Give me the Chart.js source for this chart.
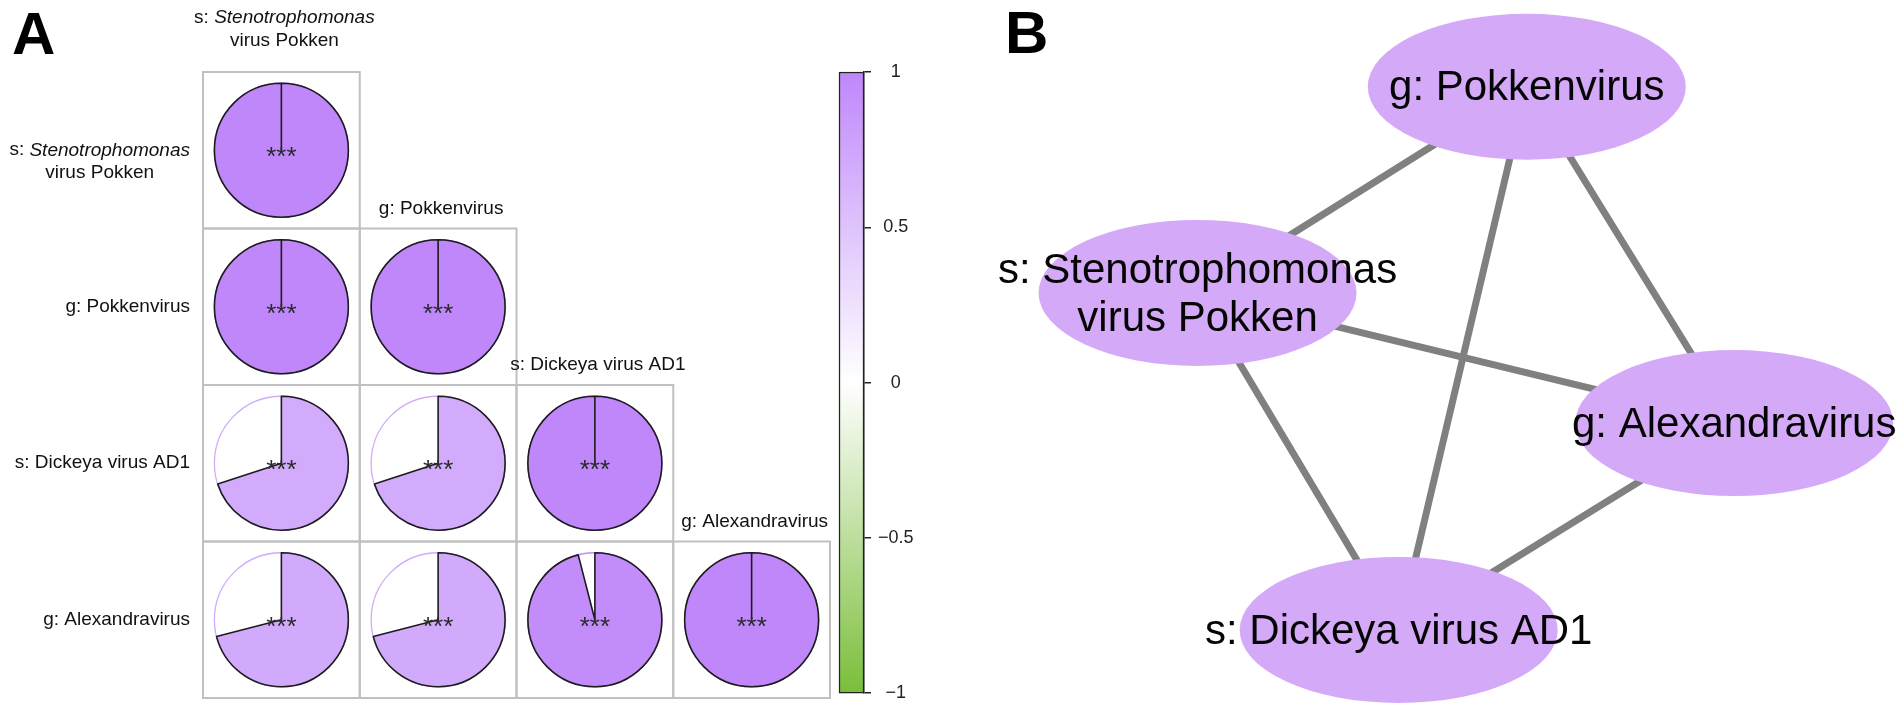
<!DOCTYPE html>
<html><head><meta charset="utf-8">
<script src="https://cdn.jsdelivr.net/npm/chart.js@4.4.1/dist/chart.umd.min.js"></script>
<style>
html,body{margin:0;padding:0;background:#fff;width:1902px;height:711px;overflow:hidden;}
canvas{position:absolute;top:0;}
</style></head><body>
<canvas id="corr" width="836" height="711" style="left:0px"></canvas>
<canvas id="cbar" width="110" height="711" style="left:832px"></canvas>
<canvas id="net" width="922" height="711" style="left:980px"></canvas>
<script>
// ---------------- DATA ----------------
const taxa = ['s: Stenotrophomonas virus Pokken', 'g: Pokkenvirus', 's: Dickeya virus AD1', 'g: Alexandravirus'];
const taxaLinesA = [['s: Stenotrophomonas', 'virus Pokken'], ['g: Pokkenvirus'], ['s: Dickeya virus AD1'], ['g: Alexandravirus']];
const italicWords = ['Stenotrophomonas'];
// lower-triangle correlation matrix, one row per taxon
const corrRow0 = [1];
const corrRow1 = [1, 1];
const corrRow2 = [0.70, 0.70, 1];
const corrRow3 = [0.71, 0.71, 0.96, 1];
const signifLabel = '***';
const colorbarTicks = [-1, -0.5, 0, 0.5, 1];
const paletteStops = [-1, 0, 1];
const paletteColors = [[122, 190, 58], [255, 255, 255], [191, 135, 250]];

// network (panel B), layout coordinates 0..100
const nodeLines = [['g: Pokkenvirus'], ['s: Stenotrophomonas', 'virus Pokken'], ['g: Alexandravirus'], ['s: Dickeya virus AD1']];
const nodeX = [58.4, 21.9, 81.4, 44.2];
const nodeY = [87.8, 58.8, 40.5, 11.4];
const edgeFrom = [0, 0, 0, 1, 1, 2];
const edgeTo = [1, 3, 2, 2, 3, 3];

// ---------------- HELPERS ----------------
const FONT = '"Liberation Sans", Arial, Helvetica, sans-serif';
function rgb(c) { return 'rgb(' + c.map(Math.round).join(',') + ')'; }
function colorFor(v) {
  for (let i = 0; i < paletteStops.length - 1; i++) {
    const a = paletteStops[i], b = paletteStops[i + 1];
    if (v >= a && v <= b) {
      const t = (v - a) / (b - a);
      const c0 = paletteColors[i], c1 = paletteColors[i + 1];
      return rgb(c0.map((x, k) => x + (c1[k] - x) * t));
    }
  }
  return rgb(paletteColors[paletteColors.length - 1]);
}
function runsOf(text) {
  let runs = [{ t: text, it: false }];
  italicWords.forEach(w => {
    const out = [];
    runs.forEach(r => {
      if (r.it) { out.push(r); return; }
      const parts = r.t.split(w);
      parts.forEach((p, i) => {
        if (p) out.push({ t: p, it: false });
        if (i < parts.length - 1) out.push({ t: w, it: true });
      });
    });
    runs = out;
  });
  return runs;
}
function fontStr(size, it) { return (it ? 'italic ' : '') + size + 'px ' + FONT; }
function richWidth(ctx, text, size) {
  return runsOf(text).reduce((s, r) => { ctx.font = fontStr(size, r.it); return s + ctx.measureText(r.t).width; }, 0);
}
function drawRich(ctx, text, x, y, align, size) {
  const w = richWidth(ctx, text, size);
  let sx = align === 'right' ? x - w : align === 'center' ? x - w / 2 : x;
  ctx.textAlign = 'left';
  runsOf(text).forEach(r => {
    ctx.font = fontStr(size, r.it);
    ctx.fillText(r.t, sx, y);
    sx += ctx.measureText(r.t).width;
  });
}

// ---------------- PANEL A: correlation pies ----------------
const corrRows = [corrRow0, corrRow1, corrRow2, corrRow3];
const corrPoints = corrRows.flatMap((row, r) => row.map((v, c) => ({ x: c, y: r, v: v })));

const corrPlugin = {
  id: 'corrGlyphs',
  afterDatasetsDraw(chart) {
    const ctx = chart.ctx, xs = chart.scales.x, ys = chart.scales.y, area = chart.chartArea;
    const cw = Math.abs(xs.getPixelForValue(0.5) - xs.getPixelForValue(-0.5));
    const ch = Math.abs(ys.getPixelForValue(0.5) - ys.getPixelForValue(-0.5));
    const pts = chart.data.datasets[0].data;
    ctx.save();
    // cell boxes
    ctx.strokeStyle = '#c0c0c0'; ctx.lineWidth = 2;
    pts.forEach(p => {
      const cx = xs.getPixelForValue(p.x), cy = ys.getPixelForValue(p.y);
      ctx.strokeRect(cx - cw / 2, cy - ch / 2, cw, ch);
    });
    // pies
    const R = 0.428 * Math.min(cw, ch);
    pts.forEach(p => {
      const cx = xs.getPixelForValue(p.x), cy = ys.getPixelForValue(p.y);
      const col = colorFor(p.v);
      ctx.beginPath(); ctx.arc(cx, cy, R, 0, 2 * Math.PI);
      ctx.strokeStyle = col; ctx.lineWidth = 1.3; ctx.stroke();
      const a0 = -Math.PI / 2, a1 = a0 + 2 * Math.PI * p.v;
      ctx.beginPath(); ctx.moveTo(cx, cy); ctx.lineTo(cx, cy - R);
      ctx.arc(cx, cy, R, a0, a1, p.v < 0); ctx.closePath();
      ctx.fillStyle = col; ctx.fill();
      ctx.strokeStyle = '#1c1c1c'; ctx.lineWidth = 1.6; ctx.lineJoin = 'round'; ctx.stroke();
      ctx.fillStyle = '#2a2a2a'; ctx.font = '26px ' + FONT; ctx.textAlign = 'center'; ctx.textBaseline = 'alphabetic';
      ctx.fillText(signifLabel, cx, cy + 15);
    });
    // labels
    ctx.fillStyle = '#111'; ctx.textBaseline = 'middle';
    taxaLinesA.forEach((lines, i) => {
      // row label (left)
      const ry = ys.getPixelForValue(i);
      const w0 = richWidth(ctx, lines[0], 19);
      const rx = area.left - 13;
      lines.forEach((ln, k) => {
        if (k === 0) drawRich(ctx, ln, rx, ry, 'right', 19);
        else drawRich(ctx, ln, rx - w0 / 2, ry + 23 * k, 'center', 19);
      });
      // column label (above diagonal cell), block centred above the cell
      const cx = xs.getPixelForValue(i) + 3;
      const top = ys.getPixelForValue(i) - ch / 2;
      const n = lines.length;
      const blockCenter = top - 20 - 23 * (n - 1);
      lines.forEach((ln, k) => {
        drawRich(ctx, ln, cx, blockCenter + (k - (n - 1) / 2) * 23, 'center', 19);
      });
    });
    // panel letter
    ctx.fillStyle = '#000'; ctx.font = 'bold 60px ' + FONT; ctx.textAlign = 'left'; ctx.textBaseline = 'alphabetic';
    ctx.fillText('A', 12, 54);
    ctx.restore();
  }
};

new Chart(document.getElementById('corr'), {
  type: 'scatter',
  data: { datasets: [{ data: corrPoints, pointRadius: 0, pointHoverRadius: 0 }] },
  options: {
    responsive: false, animation: false, devicePixelRatio: 1,
    layout: { padding: { left: 203, top: 72, right: 6, bottom: 13 } },
    plugins: { legend: { display: false }, tooltip: { enabled: false } },
    scales: {
      x: { type: 'linear', min: -0.5, max: 3.5, display: false },
      y: { type: 'linear', min: -0.5, max: 3.5, reverse: true, display: false }
    }
  },
  plugins: [corrPlugin]
});

// ---------------- COLOUR BAR ----------------
function fmtTick(v) { return v < 0 ? '\u2212' + Math.abs(v) : String(v); }
new Chart(document.getElementById('cbar'), {
  type: 'bar',
  data: {
    labels: [''],
    datasets: [{
      data: [[colorbarTicks[0], colorbarTicks[colorbarTicks.length - 1]]],
      backgroundColor: (c) => {
        const ch = c.chart; const area = ch.chartArea;
        if (!area) return null;
        const y0 = ch.scales.y.getPixelForValue(paletteStops[0]);
        const y1 = ch.scales.y.getPixelForValue(paletteStops[paletteStops.length - 1]);
        const g = ch.ctx.createLinearGradient(0, y0, 0, y1);
        paletteStops.forEach((s, i) => g.addColorStop((s - paletteStops[0]) / (paletteStops[paletteStops.length - 1] - paletteStops[0]), rgb(paletteColors[i])));
        return g;
      },
      borderColor: '#222', borderWidth: 1.5, borderSkipped: false,
      barPercentage: 1, categoryPercentage: 1, clip: false
    }]
  },
  options: {
    responsive: false, animation: false, devicePixelRatio: 1,
    layout: { padding: { left: 7, top: 72, right: 0, bottom: 13 } },
    plugins: { legend: { display: false }, tooltip: { enabled: false } },
    scales: {
      x: { display: false },
      y: {
        position: 'right', min: -1, max: 1,
        afterBuildTicks: s => { s.ticks = colorbarTicks.map(v => ({ value: v })); },
        afterFit: s => { s.width = 78; },
        grid: { drawOnChartArea: false, drawTicks: true, tickLength: 7, color: '#222', lineWidth: 1.5 },
        border: { display: true, color: '#222', width: 1.5 },
        ticks: { padding: 7, crossAlign: 'center', color: '#222', font: { size: 18, family: FONT }, callback: v => fmtTick(v) }
      }
    }
  }
});

// ---------------- PANEL B: network ----------------
const netPlugin = {
  id: 'netNodes',
  afterDatasetsDraw(chart) {
    const ctx = chart.ctx, xs = chart.scales.x, ys = chart.scales.y;
    ctx.save();
    nodeX.forEach((nx, i) => {
      const px = xs.getPixelForValue(nx), py = ys.getPixelForValue(nodeY[i]);
      ctx.beginPath(); ctx.ellipse(px, py, 159, 73, 0, 0, 2 * Math.PI);
      ctx.fillStyle = 'rgb(212,170,248)'; ctx.fill();
    });
    ctx.fillStyle = '#050505'; ctx.font = '42px ' + FONT; ctx.textAlign = 'center'; ctx.textBaseline = 'middle';
    nodeX.forEach((nx, i) => {
      const px = xs.getPixelForValue(nx), py = ys.getPixelForValue(nodeY[i]);
      const lines = nodeLines[i]; const lh = 48;
      lines.forEach((ln, k) => ctx.fillText(ln, px, py + (k - (lines.length - 1) / 2) * lh + 2));
    });
    ctx.fillStyle = '#000'; ctx.font = 'bold 60px ' + FONT; ctx.textAlign = 'left'; ctx.textBaseline = 'alphabetic';
    ctx.fillText('B', chart.chartArea.left + 5, 53);
    ctx.restore();
  }
};
const edgeSets = edgeFrom.map((a, i) => ({
  type: 'line',
  data: [{ x: nodeX[a], y: nodeY[a] }, { x: nodeX[edgeTo[i]], y: nodeY[edgeTo[i]] }],
  borderColor: 'rgb(128,128,128)', borderWidth: 7, borderCapStyle: 'round',
  pointRadius: 0, fill: false, showLine: true, clip: false
}));
new Chart(document.getElementById('net'), {
  type: 'scatter',
  data: { datasets: edgeSets.concat([{ data: nodeX.map((x, i) => ({ x: x, y: nodeY[i] })), pointRadius: 0 }]) },
  options: {
    responsive: false, animation: false, devicePixelRatio: 1,
    layout: { padding: { left: 20, right: 0, top: 0, bottom: 0 } },
    plugins: { legend: { display: false }, tooltip: { enabled: false } },
    scales: {
      x: { type: 'linear', min: 0, max: 100, display: false },
      y: { type: 'linear', min: 0, max: 100, display: false }
    }
  },
  plugins: [netPlugin]
});
</script>
</body></html>
